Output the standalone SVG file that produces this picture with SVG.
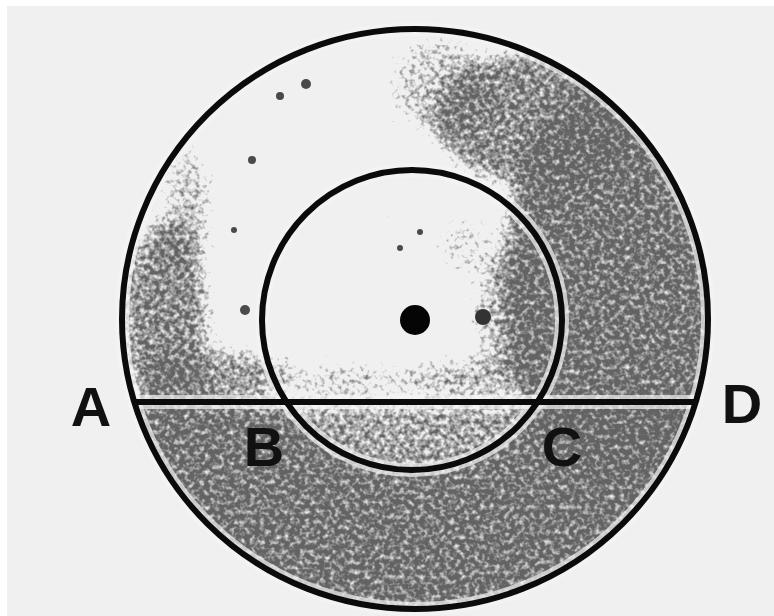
<svg xmlns="http://www.w3.org/2000/svg" width="774" height="616" viewBox="0 0 774 616">
  <defs>
    <style>
      .line { fill: none; stroke: #0b0b0b; stroke-width: 6; }
      .halo { fill: none; stroke: #f3f3f3; stroke-width: 14; stroke-opacity: 0.7; }
      .lbl { font-family: "Liberation Sans", Arial, sans-serif; font-weight: bold; font-size: 56px; fill: #111; text-anchor: middle; }
      .d { fill: #000; }
    </style>
    <clipPath id="outerClip">
      <ellipse cx="415" cy="319" rx="290" ry="287"/>
    </clipPath>
    <clipPath id="belowChord">
      <rect x="0" y="402" width="774" height="214"/>
    </clipPath>
    <filter id="tex" filterUnits="userSpaceOnUse" x="0" y="0" width="774" height="616" color-interpolation-filters="sRGB">
      <feGaussianBlur in="SourceAlpha" stdDeviation="10" result="dens"/>
      <feTurbulence type="fractalNoise" baseFrequency="0.2" numOctaves="2" seed="7" result="n"/>
      <feColorMatrix in="n" type="matrix" values="0 0 0 0 0  0 0 0 0 0  0 0 0 0 0  1 0 0 0 0" result="na"/>
      <feComposite in="na" in2="dens" operator="arithmetic" k1="0" k2="2.3" k3="1.8" k4="-2.0" result="c"/>
      <feColorMatrix in="c" type="matrix" values="0 0 0 0 0.39  0 0 0 0 0.39  0 0 0 0 0.39  0 0 0 1 0"/>
    </filter>
  </defs>

  <rect x="0" y="0" width="774" height="616" fill="#ffffff"/>
  <rect x="7" y="6" width="767" height="610" fill="#f0f0f0"/>

  <g id="shading" clip-path="url(#outerClip)">
    <g filter="url(#tex)">
      <path class="d" fill-opacity="0.95" d="M100 402 H286.4 A150 150 0 0 0 537.6 402 H730 V616 H100 Z"/>
      <circle class="d" cx="412" cy="320" r="150" fill-opacity="0.75" clip-path="url(#belowChord)"/>
      <ellipse class="d" cx="615" cy="280" rx="115" ry="200" fill-opacity="0.95"/>
      <ellipse class="d" cx="540" cy="118" rx="110" ry="70" fill-opacity="0.85"/>
      <ellipse class="d" cx="440" cy="85" rx="50" ry="50" fill-opacity="0.55"/>
      <ellipse class="d" cx="165" cy="318" rx="45" ry="100" fill-opacity="0.85"/>
      <ellipse class="d" cx="215" cy="375" rx="80" ry="26" fill-opacity="0.8"/>
      <ellipse class="d" cx="188" cy="210" rx="25" ry="65" fill-opacity="0.6"/>
      <ellipse class="d" cx="512" cy="315" rx="40" ry="65" fill-opacity="0.58"/>
      <ellipse class="d" cx="470" cy="378" rx="70" ry="20" fill-opacity="0.65"/>
      <ellipse class="d" cx="345" cy="380" rx="65" ry="17" fill-opacity="0.55"/>
      <ellipse class="d" cx="465" cy="245" rx="28" ry="30" fill-opacity="0.45"/>
    </g>
    <g fill="#4a4a4a">
      <circle cx="306" cy="84" r="5"/>
      <circle cx="280" cy="96" r="4"/>
      <circle cx="252" cy="160" r="4"/>
      <circle cx="234" cy="230" r="3"/>
      <circle cx="245" cy="310" r="5"/>
      <circle cx="400" cy="248" r="3"/>
      <circle cx="420" cy="232" r="3"/>
    </g>
  </g>

  <g id="halos">
    <ellipse class="halo" cx="415" cy="319" rx="293" ry="290"/>
    <circle class="halo" cx="412" cy="320" r="150"/>
    <line class="halo" x1="135" y1="402" x2="695" y2="402"/>
  </g>

  <g id="connectors">
    <ellipse id="outer-circle" class="line" cx="415" cy="319" rx="293" ry="290"/>
    <circle id="inner-circle" class="line" cx="412" cy="320" r="150"/>
    <line id="chord-AD" class="line" x1="135" y1="402" x2="695" y2="402"/>
  </g>

  <g id="center">
    <circle cx="415" cy="320" r="15" fill="#050505"/>
    <circle cx="483" cy="317" r="8" fill="#333"/>
  </g>

  <g id="label-A"><text class="lbl" x="91" y="426">A</text></g>
  <g id="label-B"><text class="lbl" x="264" y="466">B</text></g>
  <g id="label-C"><text class="lbl" x="562" y="466">C</text></g>
  <g id="label-D"><text class="lbl" x="742" y="423">D</text></g>
</svg>
